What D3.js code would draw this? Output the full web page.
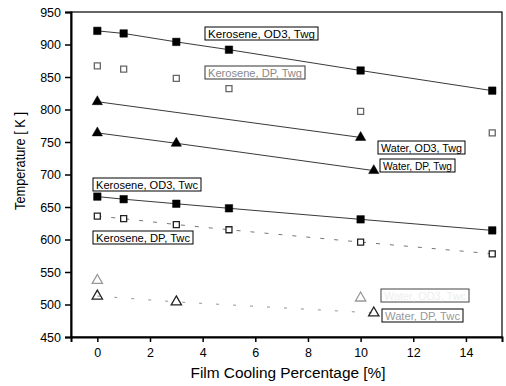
<!DOCTYPE html>
<html>
<head>
<meta charset="utf-8">
<script src="https://cdn.jsdelivr.net/npm/d3@7"></script>
<style>
  body { margin: 0; background: #fff; }
  text { font-family: "Liberation Sans", Arial, sans-serif; }
</style>
</head>
<body>
<svg id="chart" width="506" height="386"></svg>
<script>
// film cooling percentages and temperatures
let keroX = [0, 1, 3, 5, 10, 15]
let waterX = [0, 10]
let waterDpX = [0, 3, 10.5]

let keroOd3Twg = [921, 917, 904, 892, 860, 829]
let keroDpTwg = [867, 862, 848, 832, 797, 764]
let waterOd3Twg = [812, 757]
let waterDpTwg = [764, 748, 706]
let keroOd3Twc = [666, 662, 655, 648, 631, 614]
let keroDpTwc = [636, 632, 623, 615, 596, 578]
let waterOd3Twc = [537, 510]
let waterDpTwc = [513, 504, 487]

let xTicks = [0, 2, 4, 6, 8, 10, 12, 14]
let yTicks = [450, 500, 550, 600, 650, 700, 750, 800, 850, 900, 950]

let series = [
  {name: 'Kerosene, OD3, Twg', xs: keroX, ys: keroOd3Twg, sym: 'sq', fill: '#000', stroke: '#000', line: '#222', dash: null, lx: 205, ly: 27, lw: 113, tc: '#000', bc: '#000'},
  {name: 'Kerosene, DP, Twg', xs: keroX, ys: keroDpTwg, sym: 'sq', fill: 'none', stroke: '#666', line: null, dash: null, lx: 205, ly: 66, lw: 100, tc: '#888', bc: '#333'},
  {name: 'Water, OD3, Twg', xs: waterX, ys: waterOd3Twg, sym: 'tri', fill: '#000', stroke: '#000', line: '#222', dash: null, lx: 378, ly: 141, lw: 87, tc: '#000', bc: '#000'},
  {name: 'Water, DP, Twg', xs: waterDpX, ys: waterDpTwg, sym: 'tri', fill: '#000', stroke: '#000', line: '#222', dash: null, lx: 380, ly: 159, lw: 75, tc: '#000', bc: '#000'},
  {name: 'Kerosene, OD3, Twc', xs: keroX, ys: keroOd3Twc, sym: 'sq', fill: '#000', stroke: '#000', line: '#222', dash: null, lx: 93, ly: 178, lw: 108, tc: '#000', bc: '#000'},
  {name: 'Kerosene, DP, Twc', xs: keroX, ys: keroDpTwc, sym: 'sq', fill: '#fff', stroke: '#222', line: '#666', dash: '4,10', lx: 93, ly: 231, lw: 100, tc: '#000', bc: '#000'},
  {name: 'Water, OD3, Twc', xs: waterX, ys: waterOd3Twc, sym: 'tri', fill: 'none', stroke: '#999', line: null, dash: null, lx: 381, ly: 289, lw: 88, tc: '#eee', bc: '#444'},
  {name: 'Water, DP, Twc', xs: waterDpX, ys: waterDpTwc, sym: 'tri', fill: 'none', stroke: '#222', line: '#888', dash: '3,14', lx: 382, ly: 309, lw: 81, tc: '#999', bc: '#000'}
]

let svg = d3.select('#chart')
let mLeft = 71, mRight = 502, mTop = 12, mBottom = 337

let xScale = d3.scaleLinear().domain([-1, 15.37]).range([mLeft, mRight])
let yScale = d3.scaleLinear().domain([450, 950]).range([mBottom, mTop])

// frame
svg.append('rect')
  .attr('x', mLeft).attr('y', mTop)
  .attr('width', mRight - mLeft).attr('height', mBottom - mTop)
  .style('fill', 'none').style('stroke', '#000').style('stroke-width', 1.2)

let xAxis = svg.append('g')
  .attr('transform', `translate(0, ${mBottom})`)
  .call(d3.axisBottom(xScale).tickValues(xTicks).tickSize(5).tickPadding(6))
let yAxis = svg.append('g')
  .attr('transform', `translate(${mLeft}, 0)`)
  .call(d3.axisLeft(yScale).tickValues(yTicks).tickSize(6).tickPadding(4))

for (let ax of [xAxis, yAxis]) {
  ax.select('.domain').style('stroke-width', 2)
  ax.selectAll('.tick line').style('stroke-width', 1.5)
  ax.selectAll('text').style('font-size', '12.5px').style('font-family', '"Liberation Sans", Arial, sans-serif').style('fill', '#000')
}

svg.append('text')
  .attr('transform', 'translate(25, 161) rotate(270)')
  .attr('textLength', 98).attr('lengthAdjust', 'spacingAndGlyphs')
  .style('text-anchor', 'middle')
  .style('font-size', '15.5px')
  .text('Temperature [ K ]')
svg.append('text')
  .attr('x', 288).attr('y', 378)
  .attr('textLength', 195).attr('lengthAdjust', 'spacingAndGlyphs')
  .style('text-anchor', 'middle')
  .style('font-size', '15.5px')
  .text('Film Cooling Percentage [%]')

let line = d3.line().x(d => xScale(d[0])).y(d => yScale(d[1]))

series.forEach(s => {
  let pts = s.xs.map((x, i) => [x, s.ys[i]])
  let g = svg.append('g')
  if (s.line) {
    g.append('path')
      .attr('d', line(pts))
      .style('fill', 'none')
      .style('stroke', s.line)
      .style('stroke-width', 0.9)
      .style('stroke-dasharray', s.dash)
  }
  let sym = s.sym == 'sq' ? d3.symbolSquare : d3.symbolTriangle
  let size = s.sym == 'sq' ? (s.fill == '#000' ? 56 : 36) : 46
  g.selectAll('path.mark')
    .data(pts)
    .enter()
      .append('path')
      .attr('class', 'mark')
      .attr('transform', d => `translate(${xScale(d[0])}, ${yScale(d[1])})`)
      .attr('d', d3.symbol().type(sym).size(size))
      .style('fill', s.fill)
      .style('stroke', s.stroke)
      .style('stroke-width', s.fill == '#000' ? 0.5 : 1.3)

  // label box
  svg.append('rect')
    .attr('x', s.lx).attr('y', s.ly)
    .attr('width', s.lw).attr('height', 13)
    .style('fill', '#fff')
    .style('stroke', s.bc)
    .style('stroke-width', 1)
  svg.append('text')
    .attr('x', s.lx + 3).attr('y', s.ly + 10.5)
    .attr('textLength', s.lw - 6).attr('lengthAdjust', 'spacingAndGlyphs')
    .style('font-size', '10.5px')
    .style('fill', s.tc)
    .text(s.name)
})
</script>
</body>
</html>
